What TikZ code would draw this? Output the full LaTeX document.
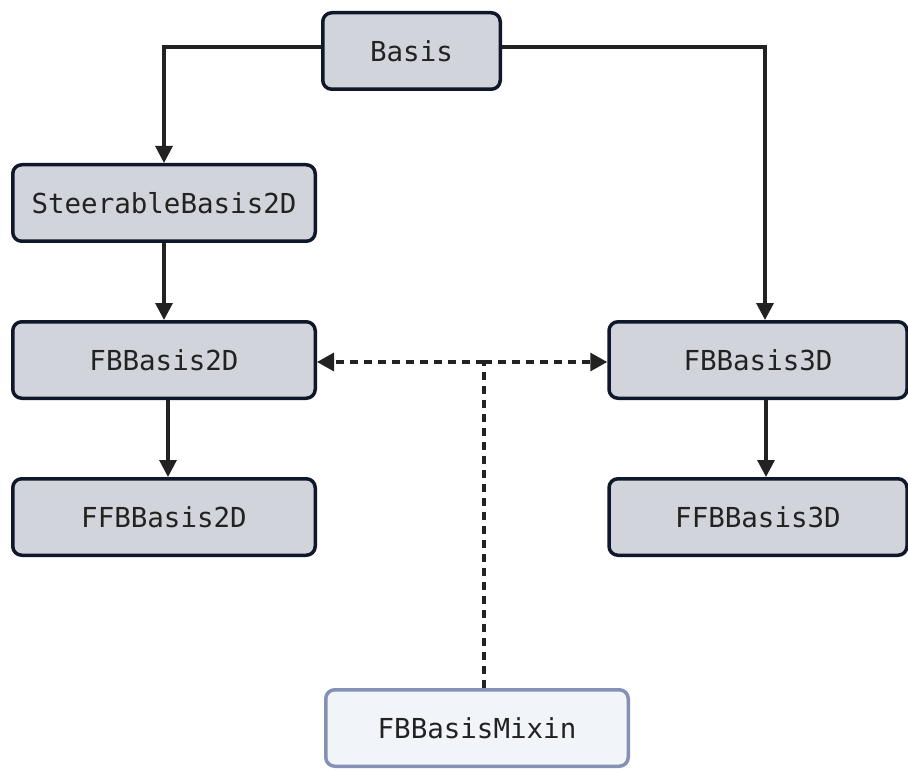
\documentclass[tikz,border=0pt]{standalone}
\usepackage{fontspec}
\setmonofont{DejaVu Sans Mono}
\usetikzlibrary{arrows.meta}
\definecolor{boxfill}{HTML}{D1D5DB}
\definecolor{boxdraw}{HTML}{0F172A}
\definecolor{mixfill}{HTML}{F1F4F9}
\definecolor{mixdraw}{HTML}{8391B5}
\definecolor{edgecol}{HTML}{222222}
\definecolor{txt}{HTML}{222222}
\begin{document}
\begin{tikzpicture}[x=1pt,y=-1pt,
  cls/.style={draw=boxdraw, fill=boxfill, line width=3.5pt, rounded corners=9pt,
    minimum width=302.5pt, minimum height=76.5pt, inner sep=0pt,
    font=\ttfamily\fontsize{27.5}{32}\selectfont, text=txt},
  mixbox/.style={cls, draw=mixdraw, fill=mixfill},
  arr/.style={draw=edgecol, line width=3.2pt, -{Triangle[length=17pt,width=17pt]}},
  darr/.style={draw=edgecol, line width=3.2pt, dash pattern=on 8pt off 6pt},
]
\useasboundingbox (0,0) rectangle (908,770);

\node[cls, minimum width=177.5pt] (basis) at (411.5,51) {Basis};
\node[cls] (sb) at (164,203) {SteerableBasis2D};
\node[cls] (f2) at (164,360) {FBBasis2D};
\node[cls] (ff2) at (164,517) {FFBBasis2D};
\node[cls, minimum width=298pt] (f3) at (758,360) {FBBasis3D};
\node[cls, minimum width=298pt] (ff3) at (758,517) {FFBBasis3D};
\node[mixbox] (mix) at (477,728) {FBBasisMixin};

\draw[arr] ([yshift=4pt]basis.west) -| (sb.north);
\draw[arr] ([yshift=4pt]basis.east) -| ([xshift=7pt]f3.north);
\draw[arr] (sb.south) -- (f2.north);
\draw[arr] ([xshift=4pt]f2.south) -- ([xshift=4pt]ff2.north);
\draw[arr] ([xshift=8pt]f3.south) -- ([xshift=8pt]ff3.north);

\coordinate (j) at (484,362);
\draw[darr] ([xshift=7pt]mix.north) -- (j);
\draw[darr, -{Triangle[length=17pt,width=18pt]}] (j) -- (f2.east |- j);
\draw[darr, -{Triangle[length=17pt,width=18pt]}] (j) -- (f3.west |- j);
\end{tikzpicture}
\end{document}
